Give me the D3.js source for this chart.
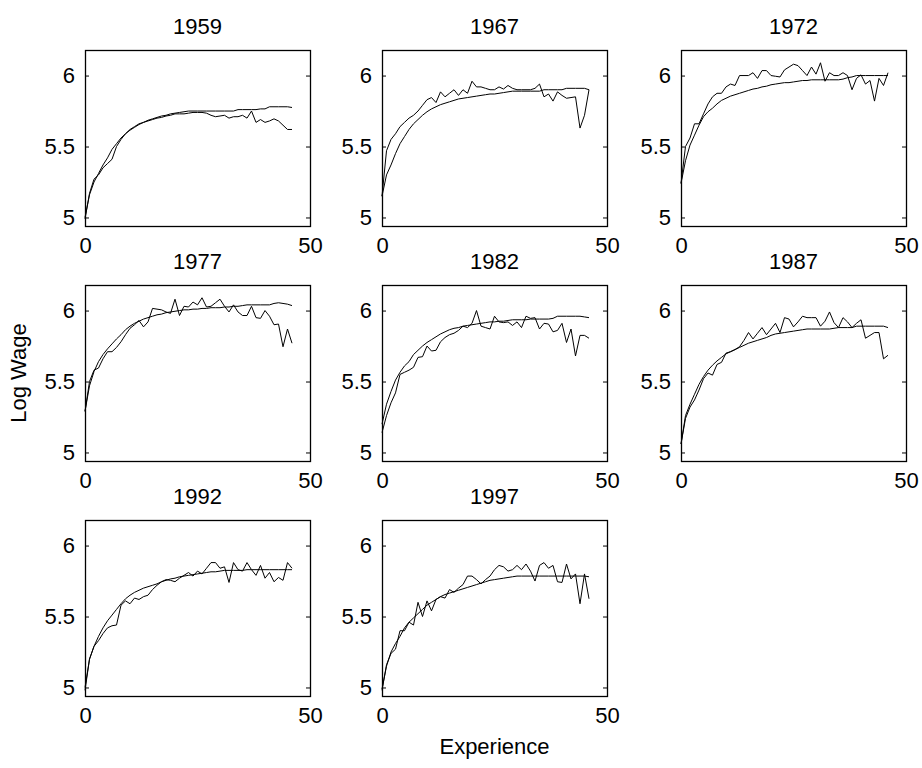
<!DOCTYPE html>
<html>
<head>
<meta charset="utf-8">
<script src="https://cdn.jsdelivr.net/npm/d3@7"></script>
<style>
  body { margin: 0; background: #fff; }
  svg { font-family: 'Liberation Sans', Arial, sans-serif; }
  .tick line { stroke: #000; }
  .tick text { fill: #000; font-size: 22px; }
</style>
</head>
<body>
<div id="chart"></div>
<script>
// years of experience, one point per year
const experience = d3.range(0, 47);
const years = ['1959', '1967', '1972', '1977', '1982', '1987', '1992', '1997'];
const xTicks = [0, 50];
const yTicks = [5, 5.5, 6];

// fitted profile and raw mean log wage
const fit1959 = [5.00, 5.16, 5.25, 5.31, 5.37, 5.42, 5.48, 5.52, 5.56, 5.59,
  5.615, 5.635, 5.655, 5.67, 5.685, 5.695, 5.705, 5.715, 5.72, 5.73,
  5.735, 5.74, 5.745, 5.75, 5.75, 5.75, 5.75, 5.75, 5.75, 5.75,
  5.75, 5.75, 5.75, 5.75, 5.76, 5.76, 5.76, 5.76, 5.76, 5.765,
  5.765, 5.78, 5.78, 5.78, 5.78, 5.78, 5.775];
const avg1959 = [4.99, 5.17, 5.27, 5.30, 5.35, 5.38, 5.41, 5.50, 5.55, 5.59,
  5.62, 5.64, 5.66, 5.67, 5.68, 5.69, 5.70, 5.705, 5.715, 5.72,
  5.73, 5.73, 5.73, 5.735, 5.74, 5.74, 5.74, 5.735, 5.72, 5.71,
  5.715, 5.72, 5.70, 5.71, 5.71, 5.72, 5.70, 5.75, 5.67, 5.69,
  5.67, 5.68, 5.695, 5.68, 5.65, 5.62, 5.62];

const fit1967 = [5.15, 5.30, 5.37, 5.45, 5.52, 5.57, 5.62, 5.66, 5.69, 5.72,
  5.745, 5.765, 5.78, 5.795, 5.805, 5.815, 5.825, 5.835, 5.84, 5.845,
  5.85, 5.855, 5.86, 5.865, 5.87, 5.87, 5.875, 5.88, 5.885, 5.89,
  5.89, 5.89, 5.89, 5.89, 5.89, 5.89, 5.90, 5.90, 5.90, 5.90,
  5.90, 5.91, 5.91, 5.91, 5.91, 5.91, 5.90];
const avg1967 = [5.15, 5.47, 5.55, 5.59, 5.64, 5.67, 5.70, 5.72, 5.75, 5.79,
  5.83, 5.845, 5.81, 5.885, 5.85, 5.875, 5.90, 5.86, 5.90, 5.875,
  5.96, 5.92, 5.92, 5.91, 5.90, 5.90, 5.92, 5.905, 5.93, 5.91,
  5.90, 5.90, 5.90, 5.90, 5.91, 5.94, 5.85, 5.87, 5.82, 5.885,
  5.86, 5.84, 5.845, 5.85, 5.63, 5.72, 5.90];

const fit1972 = [5.24, 5.40, 5.51, 5.58, 5.65, 5.71, 5.745, 5.77, 5.80, 5.825,
  5.84, 5.855, 5.865, 5.875, 5.885, 5.895, 5.905, 5.91, 5.92, 5.925,
  5.935, 5.94, 5.945, 5.95, 5.95, 5.955, 5.96, 5.965, 5.965, 5.97,
  5.97, 5.97, 5.97, 5.97, 5.97, 5.97, 5.975, 5.985, 5.99, 6.00,
  6.00, 6.00, 6.00, 6.00, 6.00, 6.00, 6.00];
const avg1972 = [5.24, 5.50, 5.56, 5.66, 5.66, 5.73, 5.80, 5.85, 5.875, 5.875,
  5.92, 5.94, 5.93, 6.00, 6.00, 6.00, 6.02, 5.98, 6.035, 6.035,
  6.00, 5.995, 5.99, 6.04, 6.06, 6.08, 6.07, 6.035, 6.00, 6.06,
  6.01, 6.09, 5.96, 6.02, 6.00, 6.00, 6.02, 6.00, 5.90, 5.98,
  6.005, 5.94, 5.965, 5.82, 5.98, 5.93, 6.02];

const fit1977 = [5.29, 5.47, 5.57, 5.64, 5.69, 5.73, 5.765, 5.80, 5.83, 5.865,
  5.89, 5.91, 5.925, 5.94, 5.95, 5.96, 5.97, 5.975, 5.985, 5.99,
  5.995, 6.00, 6.005, 6.005, 6.01, 6.01, 6.015, 6.015, 6.02, 6.02,
  6.02, 6.025, 6.025, 6.03, 6.03, 6.035, 6.04, 6.04, 6.04, 6.04,
  6.04, 6.04, 6.05, 6.055, 6.05, 6.045, 6.035];
const avg1977 = [5.29, 5.50, 5.58, 5.595, 5.66, 5.71, 5.71, 5.74, 5.78, 5.83,
  5.875, 5.90, 5.93, 5.885, 5.92, 6.015, 6.01, 6.005, 5.99, 5.98,
  6.08, 5.965, 6.03, 6.025, 6.06, 6.04, 6.09, 6.025, 6.03, 6.055,
  6.08, 6.03, 5.99, 6.04, 5.99, 5.965, 5.965, 6.03, 5.95, 5.945,
  6.00, 5.96, 5.90, 5.905, 5.745, 5.87, 5.77];

const fit1982 = [5.20, 5.34, 5.43, 5.51, 5.565, 5.61, 5.64, 5.69, 5.72, 5.75,
  5.775, 5.795, 5.815, 5.835, 5.85, 5.865, 5.875, 5.88, 5.89, 5.895,
  5.90, 5.905, 5.91, 5.915, 5.92, 5.92, 5.925, 5.925, 5.93, 5.935,
  5.935, 5.935, 5.935, 5.94, 5.94, 5.94, 5.94, 5.94, 5.945, 5.96,
  5.96, 5.96, 5.96, 5.96, 5.96, 5.955, 5.95];
const avg1982 = [5.14, 5.26, 5.35, 5.42, 5.55, 5.565, 5.58, 5.60, 5.67, 5.675,
  5.75, 5.715, 5.72, 5.78, 5.81, 5.83, 5.84, 5.86, 5.89, 5.88,
  5.91, 6.00, 5.89, 5.88, 5.87, 5.96, 5.92, 5.915, 5.92, 5.895,
  5.92, 5.88, 5.96, 5.945, 5.95, 5.87, 5.91, 5.905, 5.85, 5.86,
  5.91, 5.775, 5.87, 5.68, 5.825, 5.825, 5.805];

const fit1987 = [5.06, 5.26, 5.34, 5.41, 5.48, 5.535, 5.58, 5.615, 5.645, 5.67,
  5.695, 5.71, 5.725, 5.74, 5.755, 5.77, 5.78, 5.79, 5.80, 5.81,
  5.825, 5.835, 5.84, 5.845, 5.85, 5.855, 5.86, 5.865, 5.87, 5.87,
  5.87, 5.87, 5.87, 5.87, 5.875, 5.88, 5.88, 5.88, 5.88, 5.89,
  5.89, 5.89, 5.89, 5.89, 5.89, 5.89, 5.88];
const avg1987 = [5.06, 5.24, 5.32, 5.37, 5.44, 5.52, 5.56, 5.545, 5.62, 5.635,
  5.70, 5.71, 5.725, 5.745, 5.79, 5.845, 5.80, 5.84, 5.88, 5.83,
  5.87, 5.91, 5.845, 5.95, 5.94, 5.885, 5.92, 5.96, 5.95, 5.95,
  5.95, 5.89, 5.925, 5.99, 5.915, 5.88, 5.95, 5.92, 5.88, 5.91,
  5.935, 5.805, 5.825, 5.845, 5.845, 5.66, 5.685];

const fit1992 = [5.00, 5.20, 5.29, 5.36, 5.42, 5.47, 5.51, 5.55, 5.59, 5.625,
  5.65, 5.67, 5.685, 5.70, 5.71, 5.72, 5.73, 5.745, 5.755, 5.765,
  5.77, 5.78, 5.785, 5.79, 5.795, 5.80, 5.805, 5.81, 5.815, 5.815,
  5.82, 5.825, 5.825, 5.825, 5.825, 5.825, 5.83, 5.83, 5.83, 5.83,
  5.83, 5.83, 5.83, 5.83, 5.83, 5.83, 5.83];
const avg1992 = [4.98, 5.20, 5.29, 5.33, 5.38, 5.42, 5.435, 5.44, 5.58, 5.61,
  5.59, 5.63, 5.62, 5.64, 5.65, 5.69, 5.72, 5.745, 5.76, 5.755,
  5.745, 5.77, 5.79, 5.81, 5.785, 5.82, 5.80, 5.84, 5.88, 5.88,
  5.84, 5.85, 5.74, 5.88, 5.83, 5.82, 5.88, 5.83, 5.79, 5.86,
  5.77, 5.81, 5.745, 5.775, 5.755, 5.88, 5.84];

const fit1997 = [4.99, 5.15, 5.25, 5.31, 5.36, 5.42, 5.46, 5.49, 5.52, 5.55,
  5.58, 5.60, 5.62, 5.64, 5.655, 5.665, 5.675, 5.685, 5.695, 5.705,
  5.715, 5.725, 5.735, 5.745, 5.755, 5.76, 5.765, 5.77, 5.775, 5.78,
  5.785, 5.785, 5.785, 5.785, 5.785, 5.785, 5.785, 5.785, 5.785, 5.785,
  5.785, 5.785, 5.785, 5.785, 5.785, 5.785, 5.78];
const avg1997 = [4.98, 5.16, 5.24, 5.27, 5.40, 5.40, 5.46, 5.44, 5.60, 5.50,
  5.61, 5.54, 5.62, 5.64, 5.63, 5.69, 5.67, 5.70, 5.725, 5.785,
  5.785, 5.76, 5.73, 5.76, 5.785, 5.83, 5.86, 5.85, 5.82, 5.83,
  5.86, 5.83, 5.87, 5.82, 5.75, 5.86, 5.88, 5.84, 5.86, 5.745,
  5.74, 5.87, 5.765, 5.80, 5.59, 5.80, 5.625];

const fits = [fit1959, fit1967, fit1972, fit1977, fit1982, fit1987, fit1992, fit1997];
const avgs = [avg1959, avg1967, avg1972, avg1977, avg1982, avg1987, avg1992, avg1997];

// layout
const W = 922;
const H = 768;
const colX = [85, 382, 681];
const rowY = [50, 285, 520];
const pw = 225;
const ph = 176;

const scaleX = d3.scaleLinear().domain([0, 50]).range([0, pw]);
const scaleY = d3.scaleLinear().domain([4.94, 6.18]).range([ph, 0]);

const line = d3.line()
  .x((d, i) => scaleX(experience[i]))
  .y(d => scaleY(d));

const $svg = d3.select('#chart').append('svg')
  .attr('width', W)
  .attr('height', H);

years.forEach((year, i) => {
  const col = i % 3;
  const row = Math.floor(i / 3);
  const $g = $svg.append('g')
    .attr('transform', `translate(${colX[col]},${rowY[row]})`);

  // ticks point inward on every side
  $g.append('g')
    .call(d3.axisLeft(scaleY).tickValues(yTicks).tickFormat(d3.format('')).tickSizeInner(-4).tickSizeOuter(0).tickPadding(10))
    .call(g => g.select('.domain').remove());
  $g.append('g')
    .attr('transform', `translate(${pw},0)`)
    .call(d3.axisRight(scaleY).tickValues(yTicks).tickFormat('').tickSizeInner(-4).tickSizeOuter(0))
    .call(g => g.select('.domain').remove());
  $g.append('g')
    .attr('transform', `translate(0,${ph})`)
    .call(d3.axisBottom(scaleX).tickValues(xTicks).tickSizeInner(-4).tickSizeOuter(0).tickPadding(11))
    .call(g => g.select('.domain').remove());
  $g.append('g')
    .call(d3.axisTop(scaleX).tickValues(xTicks).tickFormat('').tickSizeInner(-4).tickSizeOuter(0))
    .call(g => g.select('.domain').remove());

  $g.selectAll('.tick text').attr('font-family', null).attr('font-size', null);

  $g.append('rect')
    .attr('x', 0.5)
    .attr('y', 0.5)
    .attr('width', pw)
    .attr('height', ph)
    .attr('fill', 'none')
    .attr('stroke', '#000')
    .attr('stroke-width', 1.3);

  [fits[i], avgs[i]].forEach(series => {
    $g.append('path')
      .datum(series)
      .attr('d', line)
      .attr('fill', 'none')
      .attr('stroke', '#000')
      .attr('stroke-width', 1);
  });

  $g.append('text')
    .attr('x', pw / 2)
    .attr('y', -16)
    .attr('text-anchor', 'middle')
    .attr('font-size', 22)
    .text(year);
});

$svg.append('text')
  .attr('transform', `translate(26,${rowY[1] + ph / 2}) rotate(-90)`)
  .attr('text-anchor', 'middle')
  .attr('font-size', 22)
  .text('Log Wage');

$svg.append('text')
  .attr('x', colX[1] + pw / 2)
  .attr('y', 754)
  .attr('text-anchor', 'middle')
  .attr('font-size', 22)
  .text('Experience');
</script>
</body>
</html>
